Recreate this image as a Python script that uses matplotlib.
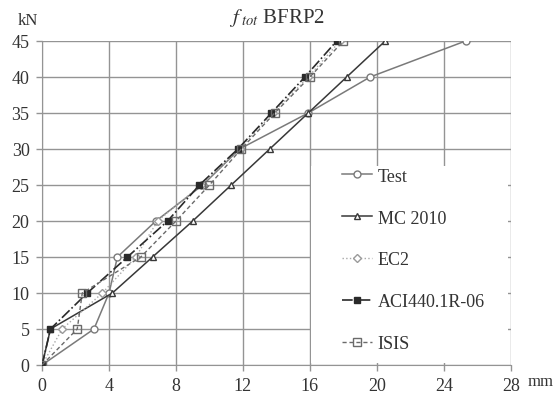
import matplotlib
matplotlib.use("Agg")
import matplotlib.pyplot as plt
from matplotlib.patches import Rectangle

plt.rcParams['font.family'] = 'Liberation Serif'
plt.rcParams['mathtext.fontset'] = 'stix'

# load levels (kN) and deflections (mm)
load = [0, 5, 10, 15, 20, 25, 30, 35, 40, 45]
test = [0, 3.1, 4.0, 4.5, 6.8, 9.6, 11.8, 15.9, 19.6, 25.3]
mc2010 = [0, 0.5, 4.2, 6.6, 9.0, 11.3, 13.6, 15.9, 18.2, 20.5]
ec2 = [0, 1.2, 3.6, 5.6, 6.9, 9.5, 11.8, 13.8, 15.9, 17.8]
aci = [0, 0.5, 2.7, 5.1, 7.5, 9.4, 11.7, 13.7, 15.7, 17.6]
isis = [0, 2.1, 2.4, 5.9, 8.0, 10.0, 11.9, 13.9, 16.0, 18.0]

xticks = [0, 4, 8, 12, 16, 20, 24, 28]
yticks = [0, 5, 10, 15, 20, 25, 30, 35, 40, 45]

fig = plt.figure(figsize=(5.54, 4.02), dpi=100)
ax = fig.add_axes([0.076, 0.0896, 0.846, 0.806])

grid_c = '#949494'
ax.plot(test, load, color='#7a7a7a', lw=1.1, marker='o', ms=5, mfc='white', mec='#7a7a7a', label='Test', zorder=4)
ax.plot(mc2010, load, color='#383838', lw=1.1, marker='^', ms=5, mfc='white', mec='#383838', label='MC 2010', zorder=4)
ax.plot(ec2, load, color='#a8a8a8', lw=1.0, ls=':', marker='D', ms=4, mfc='white', mec='#9a9a9a', label='EC2', zorder=4)
ax.plot(aci, load, color='#2a2a2a', lw=1.2, ls='-.', marker='s', ms=4, mfc='#2a2a2a', mec='#2a2a2a', label='ACI440.1R-06', zorder=4)
ax.plot(isis, load, color='#6a6a6a', lw=1.0, ls=(0, (3, 2)), marker='s', ms=6, mfc='none', mec='#6a6a6a', label='ISIS', zorder=4)

ax.set_xlim(0, 28)
ax.set_ylim(0, 45)
ax.set_xticks(xticks)
ax.set_yticks(yticks)
ax.grid(True, color=grid_c, lw=1.0)
ax.set_axisbelow(True)
for s in ax.spines.values():
    s.set_visible(False)
ax.spines['left'].set_visible(True)
ax.spines['bottom'].set_visible(True)
ax.spines['left'].set_color(grid_c)
ax.spines['bottom'].set_color(grid_c)
ax.tick_params(length=4, width=1, color=grid_c, labelsize=13, labelcolor='#333333', pad=5)

# white box behind the legend covering the grid
ax.add_patch(Rectangle((16.08, 0.25), 27.82 - 16.08, 27.4, facecolor='white', edgecolor='none', zorder=2))

ax.legend(loc='upper left', bbox_to_anchor=(0.62, 0.637), frameon=False, fontsize=13,
          handlelength=1.7, handletextpad=0.3, labelspacing=1.38, borderpad=0,
          labelcolor='#333333')

fig.text(0.5, 0.955, r'$f_{\ tot}$ BFRP2', ha='center', va='center', fontsize=15, color='#333333')
fig.text(0.05, 0.948, 'kN', ha='center', va='center', fontsize=12, color='#333333')
fig.text(0.975, 0.05, 'mm', ha='center', va='center', fontsize=12, color='#333333')

fig.savefig('out.png', dpi=100)
